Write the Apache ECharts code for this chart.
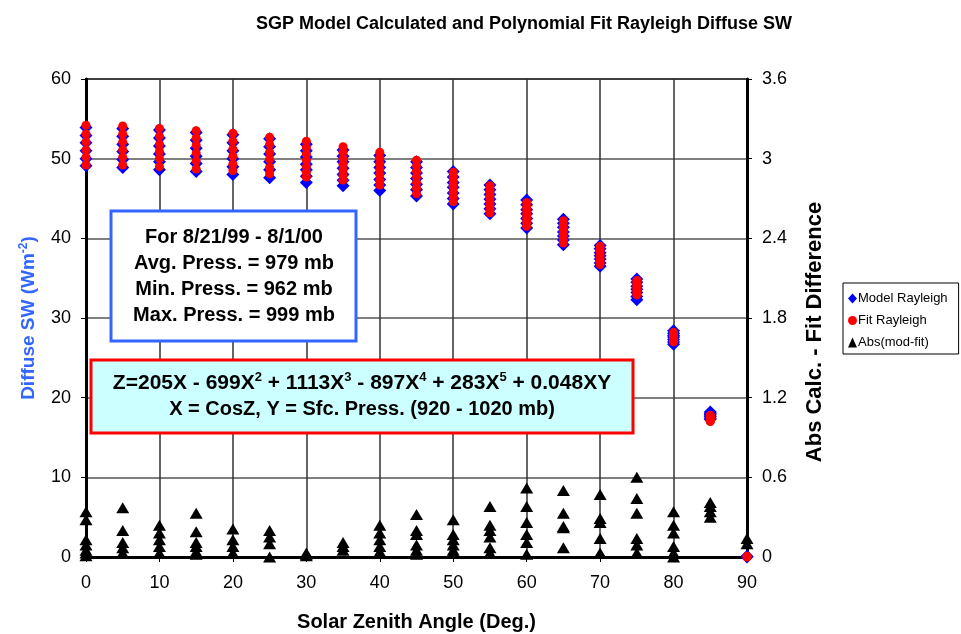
<!DOCTYPE html>
<html>
<head>
<meta charset="utf-8">
<script src="https://cdn.jsdelivr.net/npm/echarts@6/dist/echarts.min.js"></script>
<style>html,body{margin:0;padding:0;background:#fff;}#c{width:961px;height:634px;}</style>
</head>
<body>
<div id="c"></div>
<script>
const angles = [0,5,10,15,20,25,30,35,40,45,50,55,60,65,70,75,80,85,90];
const modelVals = [
  [53.9,52.9,52.0,51.0,50.0,49.1],
  [53.8,52.8,51.8,50.9,49.9,48.9],
  [53.6,52.6,51.6,50.6,49.6,48.6],
  [53.3,52.3,51.3,50.3,49.4,48.4],
  [53.0,52.0,51.0,50.0,49.0,48.0],
  [52.5,51.5,50.6,49.6,48.6,47.6],
  [51.8,51.0,50.2,49.3,48.6,47.8,47.0],
  [51.1,50.3,49.6,48.8,48.0,47.3,46.6],
  [50.4,49.6,48.9,48.2,47.4,46.7,46.0],
  [49.6,48.9,48.2,47.5,46.8,46.1,45.3],
  [48.4,47.7,47.0,46.4,45.7,45.0,44.3],
  [46.7,46.1,45.5,44.9,44.3,43.7,43.1],
  [44.8,44.2,43.6,43.1,42.5,41.9,41.3],
  [42.4,41.9,41.4,40.8,40.3,39.8,39.2],
  [39.1,38.7,38.2,37.8,37.4,36.9,36.5],
  [34.9,34.5,34.0,33.6,33.2,32.7,32.3],
  [28.4,28.1,27.8,27.6,27.3,27.0,26.7],
  [18.2,18.0,17.9,17.7,17.6,17.4,17.3],
  [0.1,0.0]
];
const fitVals = [
  [54.2,53.1,52.1,51.1,50.2,49.2],
  [54.1,53.1,52.1,51.1,50.2,49.2],
  [53.8,52.8,51.8,50.9,50.0,49.0],
  [53.5,52.6,51.7,50.7,49.7,48.7],
  [53.2,52.2,51.2,50.3,49.3,48.5],
  [52.7,51.8,50.8,49.9,48.9,48.1],
  [52.2,51.4,50.6,49.8,49.0,48.3,47.7],
  [51.5,50.8,50.0,49.3,48.6,47.9,47.3],
  [50.8,50.1,49.4,48.7,48.0,47.3,46.7],
  [49.8,49.1,48.4,47.7,47.0,46.3,45.6],
  [48.3,47.7,47.1,46.5,45.8,45.2,44.6],
  [46.6,46.0,45.4,44.8,44.3,43.7,43.2],
  [44.5,44.0,43.5,43.0,42.5,42.0,41.5],
  [42.2,41.7,41.3,40.8,40.3,39.8,39.4],
  [39.0,38.6,38.2,37.8,37.4,37.0,36.7],
  [34.7,34.4,34.1,33.8,33.5,33.2,32.9],
  [28.2,28.0,27.8,27.6,27.4,27.2,27.0],
  [17.8,17.7,17.5,17.4,17.3,17.1,17.0],
  [0.1,0.0]
];
const absDiff = [
  [0.34,0.28,0.13,0.09,0.05,0.03,0.01],
  [0.37,0.20,0.11,0.07,0.03],
  [0.24,0.18,0.13,0.08,0.03],
  [0.33,0.19,0.11,0.08,0.04,0.02],
  [0.21,0.13,0.08,0.03],
  [0.20,0.15,0.10,0.00],
  [0.03,0.02,0.01],
  [0.11,0.08,0.05],
  [0.24,0.18,0.13,0.08,0.04],
  [0.32,0.20,0.17,0.09,0.05,0.02],
  [0.28,0.17,0.13,0.09,0.05,0.03],
  [0.38,0.24,0.20,0.15,0.07,0.03],
  [0.52,0.38,0.26,0.17,0.11,0.02],
  [0.50,0.33,0.23,0.22,0.07],
  [0.47,0.29,0.26,0.14,0.03],
  [0.60,0.44,0.33,0.14,0.09,0.03],
  [0.34,0.24,0.18,0.08,0.03,0.00],
  [0.41,0.38,0.34,0.30],
  [0.14,0.10]
];
const leftTicks = [0,10,20,30,40,50,60];
const rightTicks = [0,0.6,1.2,1.8,2.4,3,3.6];
const xTicks = [0,10,20,30,40,50,60,70,80,90];
const infoLines = ['For 8/21/99 - 8/1/00','Avg. Press. = 979 mb','Min. Press. = 962 mb','Max. Press. = 999 mb'];

function pairs(vals){
  const out = [];
  angles.forEach((a,i)=>vals[i].forEach(v=>out.push([a,v])));
  return out;
}
const FONT = '"Liberation Sans", Arial, sans-serif';
const chart = echarts.init(document.getElementById('c'), null, {renderer:'canvas'});
const sup = {fontSize:13, fontWeight:'bold', fontFamily:FONT, padding:[0,0,12,0], color:'#000', lineHeight:26};
const big = {fontSize:21, fontWeight:'bold', fontFamily:FONT, color:'#000', lineHeight:26};
const mid = {fontSize:20, fontWeight:'bold', fontFamily:FONT, color:'#000', lineHeight:26};
chart.setOption({
  animation:false,
  backgroundColor:'#fff',
  title:{
    text:'SGP Model Calculated and Polynomial Fit Rayleigh Diffuse SW',
    left:519, top:10, textAlign:'center',
    textStyle:{fontFamily:FONT, fontWeight:'bold', fontSize:18, color:'#000'}
  },
  legend:{
    orient:'vertical', left:843, top:283,
    padding:[9,11,5,5], itemGap:9, itemWidth:9, itemHeight:10,
    backgroundColor:'#fff', borderColor:'#000', borderWidth:1,
    textStyle:{fontFamily:FONT, fontSize:13, color:'#000', padding:[0,0,0,-4]},
    data:[{name:'Model Rayleigh', icon:'diamond'},{name:'Fit Rayleigh', icon:'circle'},{name:'Abs(mod-fit)', icon:'triangle'}]
  },
  grid:{left:86, right:214, top:79, bottom:77, show:true, borderColor:'#000', borderWidth:2,
        containLabel:false, outerBoundsMode:'none'},
  xAxis:{
    type:'value', min:0, max:90, interval:10,
    name:'Solar Zenith Angle (Deg.)', nameLocation:'middle', nameGap:55,
    nameTextStyle:{fontFamily:FONT, fontWeight:'bold', fontSize:20, color:'#000'},
    axisLine:{lineStyle:{color:'#000', width:3}},
    axisTick:{show:true, length:5, lineStyle:{color:'#000', width:1}},
    axisLabel:{fontFamily:FONT, fontSize:18, color:'#000', margin:17, formatter:v=>String(v)},
    splitLine:{show:true, lineStyle:{color:'#333', width:1.5}}
  },
  yAxis:[{
    type:'value', min:0, max:60, interval:10, position:'left',
    name:'Diffuse SW (Wm{s|-2})', nameLocation:'middle', nameGap:46, nameRotate:90,
    nameTextStyle:{fontFamily:FONT, fontWeight:'bold', fontSize:19, color:'#3366ff',
      rich:{s:{fontSize:12, fontWeight:'bold', fontFamily:FONT, color:'#3366ff', padding:[0,0,10,0]}}},
    axisLine:{show:true, lineStyle:{color:'#000', width:3}},
    axisTick:{show:true, length:5, lineStyle:{color:'#000', width:1}},
    axisLabel:{fontFamily:FONT, fontSize:18, color:'#000', margin:15},
    splitLine:{show:true, lineStyle:{color:'#555', width:1.5}}
  },{
    type:'value', min:0, max:3.6, interval:0.6, position:'right',
    name:'Abs Calc. - Fit Difference', nameLocation:'middle', nameGap:57, nameRotate:90,
    nameTextStyle:{fontFamily:FONT, fontWeight:'bold', fontSize:22, color:'#000', padding:[0,28,0,0]},
    axisLine:{show:true, lineStyle:{color:'#000', width:3}},
    axisTick:{show:true, length:5, lineStyle:{color:'#000', width:1}},
    axisLabel:{fontFamily:FONT, fontSize:18, color:'#000', margin:15, formatter:v=>String(+v.toFixed(1))},
    splitLine:{show:false}
  }],
  series:[
    {name:'Model Rayleigh', type:'scatter', yAxisIndex:0, symbol:'diamond', symbolSize:[13,13],
     itemStyle:{color:'#0000ff', opacity:1}, data:pairs(modelVals), z:2},
    {name:'Fit Rayleigh', type:'scatter', yAxisIndex:0, symbol:'circle', symbolSize:9,
     itemStyle:{color:'#ff0000', opacity:1}, data:pairs(fitVals), z:3},
    {name:'Abs(mod-fit)', type:'scatter', yAxisIndex:1, symbol:'triangle', symbolSize:[13,11],
     itemStyle:{color:'#000', opacity:1}, data:pairs(absDiff), z:4}
  ],
  graphic:[
    {type:'rect', x:111, y:211, shape:{x:0, y:0, width:245, height:130}, z:10,
     style:{fill:'#fff', stroke:'#3366ff', lineWidth:3}},
    {type:'text', z:11, x:234, y:224,
     style:{text:infoLines.join('\n'), align:'center', textAlign:'center', fontFamily:FONT, fontWeight:'bold', fontSize:20, lineHeight:26, fill:'#000'}},
    {type:'rect', x:91, y:360, shape:{x:0, y:0, width:542, height:73}, z:10,
     style:{fill:'#ccffff', stroke:'#ff0000', lineWidth:3}},
    {type:'text', z:11, x:362, y:370,
     style:{text:'{n|Z=205X - 699X}{s|2}{n| + 1113X}{s|3}{n| - 897X}{s|4}{n| + 283X}{s|5}{n| + 0.048XY}\n{m|X = CosZ, Y = Sfc. Press. (920 - 1020 mb)}',
       align:'center', textAlign:'center', lineHeight:26, fontFamily:FONT, fontWeight:'bold', fontSize:20,
       rich:{n:big, m:mid, s:sup}}}
  ]
});
</script>
</body>
</html>
